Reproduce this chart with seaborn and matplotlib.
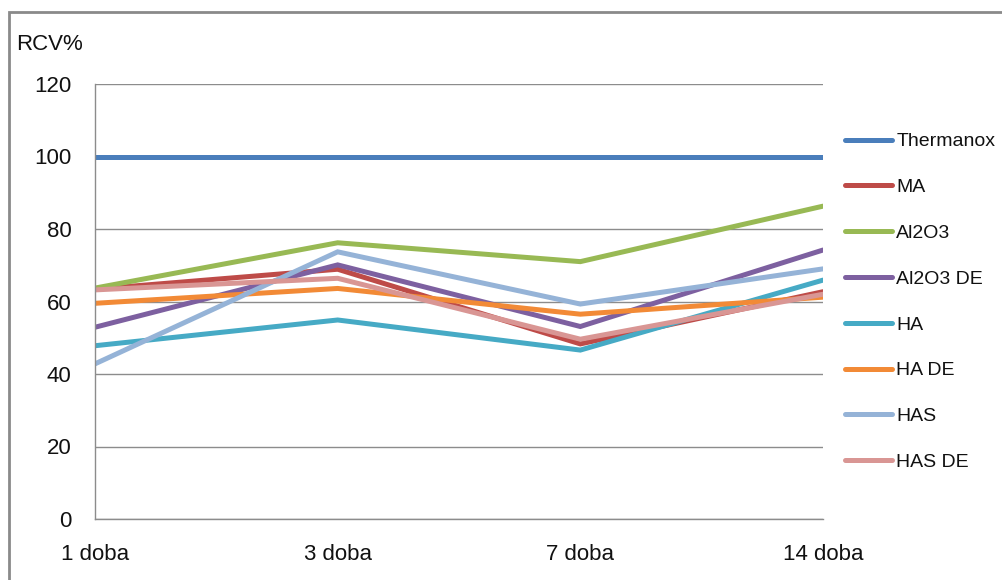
import matplotlib
matplotlib.use("Agg")
import matplotlib.pyplot as plt
import matplotlib.patches as mpatches
import seaborn as sns
import pandas as pd

# Time points (categories on the x axis)
days = ["1 doba", "3 doba", "7 doba", "14 doba"]

# RCV% per material
thermanox = [100.0, 100.0, 100.0, 100.0]
ma = [63.4, 68.9, 48.3, 62.7]
al2o3 = [63.7, 76.2, 71.0, 86.3]
al2o3_de = [52.9, 70.1, 53.1, 74.2]
ha = [47.8, 54.9, 46.6, 65.9]
ha_de = [59.5, 63.6, 56.5, 61.2]
has = [42.8, 73.7, 59.3, 69.0]
has_de = [63.2, 66.4, 49.6, 62.0]

series_names = ["Thermanox", "MA", "Al2O3", "Al2O3 DE", "HA", "HA DE", "HAS", "HAS DE"]
series_values = [thermanox, ma, al2o3, al2o3_de, ha, ha_de, has, has_de]
colors = ["#4A7EBB", "#BE4B48", "#98B954", "#7D60A0",
          "#46AAC5", "#F28A36", "#95B3D7", "#D99694"]

y_ticks = [0, 20, 40, 60, 80, 100, 120]

rows = []
for name, vals in zip(series_names, series_values):
    for d, v in zip(days, vals):
        rows.append({"doba": d, "RCV": v, "material": name})
df = pd.DataFrame(rows)

sns.set_theme(style="white")
plt.rcParams["font.family"] = ["Liberation Sans", "DejaVu Sans"]

FS = 16
LEG_FS = 14
fig = plt.figure(figsize=(10.02, 5.80), dpi=100)
ax = fig.add_axes([95 / 1002, 61 / 580, (823 - 95) / 1002, (519 - 84) / 580])

sns.lineplot(data=df, x="doba", y="RCV", hue="material", hue_order=series_names,
             palette=colors, linewidth=3.6, sort=False, ax=ax, legend=False)
for line in ax.get_lines():
    line.set_solid_capstyle("round")
    line.set_solid_joinstyle("miter")

ax.set_xlim(0, len(days) - 1)
ax.set_ylim(0, 120)
ax.set_yticks(y_ticks)
ax.set_xticks(range(len(days)))
ax.set_xticklabels(days)
ax.set_xlabel("")
ax.set_ylabel("")

grey = "#8C8C8C"
ax.grid(axis="y", color=grey, linewidth=1.0)
ax.grid(axis="x", visible=False)
ax.set_axisbelow(True)
for side in ["top", "right"]:
    ax.spines[side].set_visible(False)
for side in ["left", "bottom"]:
    ax.spines[side].set_color(grey)
    ax.spines[side].set_linewidth(1.0)
ax.tick_params(axis="both", which="major", direction="out", length=7, width=1.0,
               color=grey, labelsize=FS, labelcolor="#111111")
ax.tick_params(axis="y", pad=10)
ax.tick_params(axis="x", pad=11)

fig.text(16 / 1002, 1 - 45 / 580, "RCV%", fontsize=FS, color="#111111",
         ha="left", va="center")

handles = [plt.Line2D([], [], color=c, linewidth=3.6, solid_capstyle="round")
           for c in colors]
fig.legend(handles, series_names, loc="upper left",
           bbox_to_anchor=(837 / 1002, 1 - 125 / 580), frameon=False,
           fontsize=LEG_FS, handlelength=2.45, handletextpad=0.2,
           labelspacing=1.45, borderaxespad=0, labelcolor="#111111")

# Outer chart frame
frame = mpatches.Rectangle((9 / 1002, -0.1), 1.2, 1 - 12 / 580 + 0.1,
                           transform=fig.transFigure, fill=False,
                           edgecolor="#8A8A8A", linewidth=2.0)
fig.patches.append(frame)

fig.savefig("out.png", dpi=100)
